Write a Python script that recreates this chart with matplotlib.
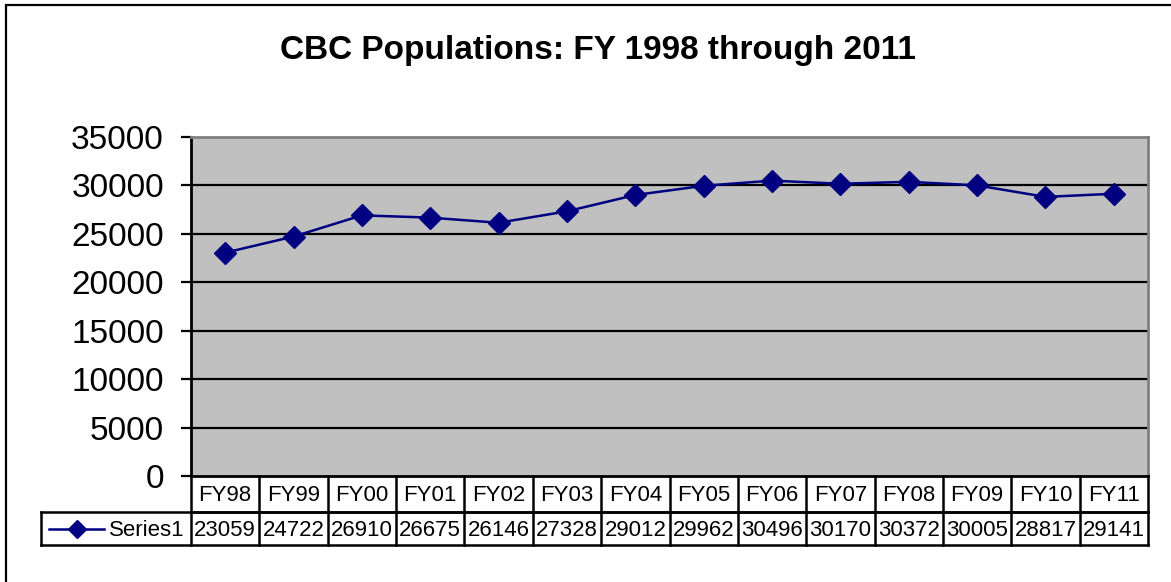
import matplotlib
matplotlib.use('Agg')
import matplotlib.pyplot as plt
from matplotlib.lines import Line2D
from matplotlib.transforms import blended_transform_factory

plt.rcParams['font.family'] = ['Liberation Sans', 'DejaVu Sans']

# ── Data ──────────────────────────────────────────────
categories = ['FY98', 'FY99', 'FY00', 'FY01', 'FY02', 'FY03', 'FY04',
              'FY05', 'FY06', 'FY07', 'FY08', 'FY09', 'FY10', 'FY11']
population = [23059, 24722, 26910, 26675, 26146, 27328, 29012,
              29962, 30496, 30170, 30372, 30005, 28817, 29141]
series_name = 'Series1'
title = 'CBC Populations: FY 1998 through 2011'
yticks = [0, 5000, 10000, 15000, 20000, 25000, 30000, 35000]

W, H = 1171, 582
fig = plt.figure(figsize=(W / 100, H / 100), dpi=100)

# outer chart frame (runs off the right/bottom of the picture)
fig.patches.append(plt.Rectangle((6 / W, -0.05), 1.1, 1 - 5 / H + 0.05,
                                 transform=fig.transFigure, fill=False,
                                 edgecolor='black', linewidth=1.6))

def fy(py):
    return 1 - py / H

ax = fig.add_axes([191 / W, fy(476), (1148 - 191) / W, fy(137) - fy(476)])
ax.set_facecolor('#C0C0C0')
n = len(categories)
x = list(range(n))

for v in yticks[1:-1]:
    ax.axhline(v, color='black', linewidth=1.6, zorder=1)

ax.plot(x, population, color='#000080', linewidth=1.8, marker='D',
        markersize=11, markerfacecolor='#000080', markeredgecolor='#000080', zorder=3)

ax.set_xlim(-0.5, n - 0.5)
ax.set_ylim(0, 35000)
ax.set_yticks(yticks)
ax.set_yticklabels([str(v) for v in yticks], fontsize=24)
ax.tick_params(axis='y', length=7.5, width=1.6, pad=12, color='black')
ax.set_xticks([])
for side in ['top', 'right']:
    ax.spines[side].set_color('#808080')
    ax.spines[side].set_linewidth(2)
ax.spines['left'].set_linewidth(2)
ax.spines['bottom'].set_linewidth(2)

fig.text(598 / W, fy(50), title, ha='center', va='center',
         fontsize=24, fontweight='bold')

# ── Data table under the axis ─────────────────────────
tr = blended_transform_factory(ax.transData, fig.transFigure)
colw = (1148 - 191) / n
x_left = -0.5 - (191 - 41) / colw
y0, y1, y2 = fy(476), fy(512), fy(545)
lw = 1.8

def hline(xa, xb, yy):
    fig.lines.append(Line2D([xa, xb], [yy, yy], transform=tr, color='black', linewidth=lw))

def vline(xx, ya, yb):
    fig.lines.append(Line2D([xx, xx], [ya, yb], transform=tr, color='black', linewidth=lw))

hline(-0.5, n - 0.5, y1)
hline(x_left, n - 0.5, y1)
hline(x_left, n - 0.5, y2)
for i in range(n + 1):
    vline(i - 0.5, y0, y2)
vline(x_left, y1, y2)

for i, (c, v) in enumerate(zip(categories, population)):
    fig.text(i, (y0 + y1) / 2 - 0.003, c, transform=tr, ha='center', va='center', fontsize=16)
    fig.text(i, (y1 + y2) / 2 - 0.003, str(v), transform=tr, ha='center', va='center', fontsize=16)

# legend key in the first cell
ym = (y1 + y2) / 2
key_x0 = x_left + (49 - 41) / colw
key_x1 = x_left + (104 - 41) / colw
fig.lines.append(Line2D([key_x0, key_x1], [ym, ym], transform=tr, color='#000080', linewidth=1.8))
fig.lines.append(Line2D([(key_x0 + key_x1) / 2], [ym], transform=tr, color='#000080',
                        marker='D', markersize=9, linestyle='none'))
fig.text(-0.5 - (191 - 185) / colw, ym - 0.003, series_name, transform=tr,
         ha='right', va='center', fontsize=16)

fig.savefig('out.png', dpi=100)
